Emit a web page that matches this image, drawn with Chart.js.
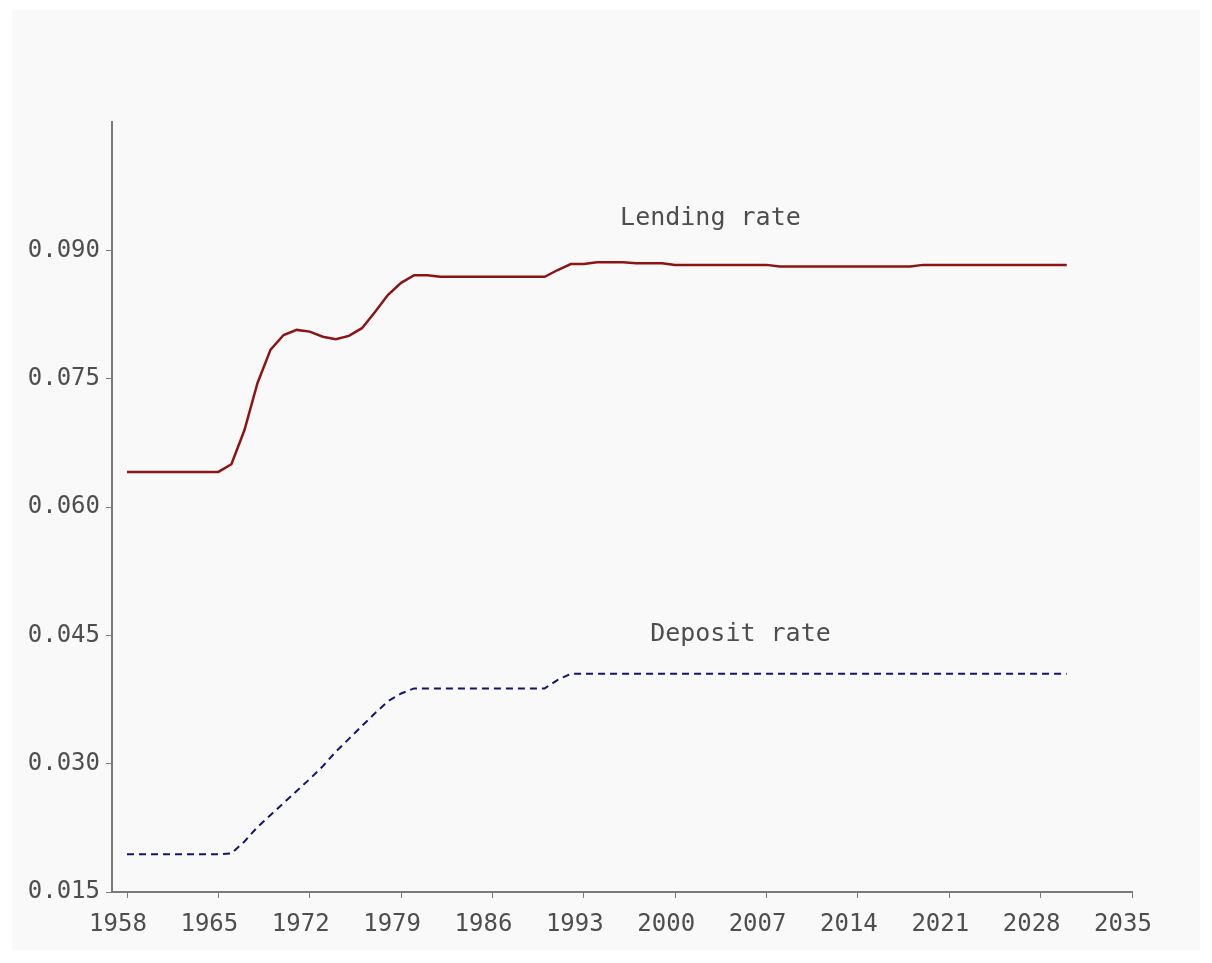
<!DOCTYPE html>
<html>
<head>
<meta charset="utf-8">
<script src="https://cdn.jsdelivr.net/npm/chart.js@4"></script>
<style>
  html, body { margin: 0; padding: 0; background: #ffffff; }
  #panel { position: absolute; left: 12px; top: 10px; width: 1188px; height: 940px; background: #f9f9f9; }
</style>
</head>
<body>
<div id="panel"><canvas id="chart"></canvas></div>
<script>
const years = [1958, 1959, 1960, 1961, 1962, 1963, 1964, 1965, 1966, 1967, 1968, 1969, 1970,
  1971, 1972, 1973, 1974, 1975, 1976, 1977, 1978, 1979, 1980, 1981, 1982, 1983, 1984, 1985,
  1986, 1987, 1988, 1989, 1990, 1991, 1992, 1993, 1994, 1995, 1996, 1997, 1998, 1999, 2000,
  2001, 2002, 2003, 2004, 2005, 2006, 2007, 2008, 2009, 2010, 2011, 2012, 2013, 2014, 2015,
  2016, 2017, 2018, 2019, 2020, 2021, 2022, 2023, 2024, 2025, 2026, 2027, 2028, 2029, 2030];

const lendingRate = [0.0641, 0.0641, 0.0641, 0.0641, 0.0641, 0.0641, 0.0641, 0.0641,
  0.0650, 0.0690, 0.0745, 0.0784, 0.0801, 0.0807, 0.0805, 0.0799, 0.0796, 0.0800, 0.0809,
  0.0828, 0.0848, 0.0862, 0.0871, 0.0871, 0.0869,
  0.0869, 0.0869, 0.0869, 0.0869, 0.0869, 0.0869, 0.0869, 0.0869,
  0.0877, 0.0884, 0.0884, 0.0886, 0.0886, 0.0886, 0.0885, 0.0885, 0.0885,
  0.0883, 0.0883, 0.0883, 0.0883, 0.0883, 0.0883, 0.0883, 0.0883,
  0.0881, 0.0881, 0.0881, 0.0881, 0.0881, 0.0881, 0.0881, 0.0881, 0.0881, 0.0881, 0.0881,
  0.0883, 0.0883, 0.0883, 0.0883, 0.0883, 0.0883, 0.0883, 0.0883, 0.0883, 0.0883, 0.0883, 0.0883];

const depositRate = [0.0194, 0.0194, 0.0194, 0.0194, 0.0194, 0.0194, 0.0194, 0.0194,
  0.0195, 0.0209, 0.0226, 0.0240, 0.0254, 0.0268, 0.0282, 0.0297, 0.0314, 0.0329, 0.0344,
  0.0359, 0.0373, 0.0382, 0.0388,
  0.0388, 0.0388, 0.0388, 0.0388, 0.0388, 0.0388, 0.0388, 0.0388, 0.0388, 0.0388,
  0.0398, 0.0405,
  0.0405, 0.0405, 0.0405, 0.0405, 0.0405, 0.0405, 0.0405, 0.0405, 0.0405, 0.0405,
  0.0405, 0.0405, 0.0405, 0.0405, 0.0405, 0.0405, 0.0405, 0.0405, 0.0405, 0.0405,
  0.0405, 0.0405, 0.0405, 0.0405, 0.0405, 0.0405, 0.0405, 0.0405, 0.0405, 0.0405,
  0.0405, 0.0405, 0.0405, 0.0405, 0.0405, 0.0405, 0.0405, 0.0405];

const xTicks = [1958, 1965, 1972, 1979, 1986, 1993, 2000, 2007, 2014, 2021, 2028, 2035];
const yTicks = [0.015, 0.030, 0.045, 0.060, 0.075, 0.090];

// series labels placed in data space: [text, x (year), y (rate)]
const seriesLabels = [
  ['Lending rate', 2002.7, 0.0937],
  ['Deposit rate', 2005.0, 0.0451]
];

const axisColor = '#7a7a7a';
const textColor = '#4e4e4e';
Chart.defaults.font.family = "'DejaVu Sans Mono', monospace";

const labelPlugin = {
  id: 'seriesLabels',
  afterDatasetsDraw(chart) {
    const ctx = chart.ctx;
    const xs = chart.scales.x, ys = chart.scales.y;
    ctx.save();
    ctx.font = "25px 'DejaVu Sans Mono'";
    ctx.fillStyle = textColor;
    ctx.textAlign = 'center';
    ctx.textBaseline = 'middle';
    seriesLabels.forEach(function (l) {
      ctx.fillText(l[0], xs.getPixelForValue(l[1]), ys.getPixelForValue(l[2]));
    });
    ctx.restore();
  }
};

new Chart(document.getElementById('chart'), {
  type: 'line',
  data: {
    datasets: [{
      label: 'Lending rate',
      data: years.map((yr, i) => ({ x: yr, y: lendingRate[i] })),
      borderColor: '#8b1414',
      borderWidth: 2.5,
      pointRadius: 0,
      tension: 0
    }, {
      label: 'Deposit rate',
      data: years.map((yr, i) => ({ x: yr, y: depositRate[i] })),
      borderColor: '#14146e',
      borderWidth: 2,
      borderDash: [7, 5],
      pointRadius: 0,
      tension: 0
    }]
  },
  options: {
    responsive: true,
    maintainAspectRatio: false,
    animation: false,
    layout: { padding: { left: 0, top: 112, right: 68, bottom: 0 } },
    plugins: { legend: { display: false }, tooltip: { enabled: false } },
    scales: {
      x: {
        type: 'linear',
        min: 1956.85,
        max: 2035,
        afterBuildTicks: function (scale) { scale.ticks = xTicks.map(v => ({ value: v })); },
        afterFit: function (scale) { scale.height = 58; },
        grid: { drawOnChartArea: false, drawTicks: true, tickLength: 6, color: axisColor },
        border: { display: true, color: axisColor, width: 2 },
        ticks: { color: textColor, font: { size: 24 }, padding: 12, maxRotation: 0,
          labelOffset: -9, callback: v => String(v) }
      },
      y: {
        min: 0.015,
        max: 0.105,
        afterBuildTicks: function (scale) { scale.ticks = yTicks.map(v => ({ value: v })); },
        afterFit: function (scale) { scale.width = 100; },
        grid: { drawOnChartArea: false, drawTicks: true, tickLength: 6, color: axisColor },
        border: { display: true, color: axisColor, width: 2 },
        ticks: { color: textColor, font: { size: 24 }, padding: 6,
          callback: v => v.toFixed(3) }
      }
    }
  },
  plugins: [labelPlugin]
});
</script>
</body>
</html>
